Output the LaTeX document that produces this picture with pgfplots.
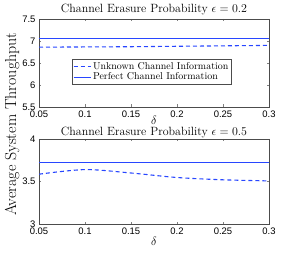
\documentclass[border=0pt]{standalone}
\usepackage{pgfplots}
\pgfplotsset{compat=1.18}
\usepackage{fontspec}
\newfontfamily\ticksf{Liberation Sans}
\definecolor{lblue}{RGB}{40,70,255}
\begin{document}
\begin{tikzpicture}
\useasboundingbox (0bp,0bp) rectangle (296bp,253bp);
\pgfplotsset{
  every axis/.append style={
    scale only axis, width=230bp,
    xmin=0.05, xmax=0.3,
    xtick={0.05,0.1,0.15,0.2,0.25,0.3},
    xticklabels={0.05,0.1,0.15,0.2,0.25,0.3},
    /pgf/number format/assume math mode=true,
    tick label style={font=\ticksf\fontsize{9.5}{10}\selectfont},
    tick align=inside, tick pos=both,
    xlabel={$\delta$},
    xlabel style={font=\fontsize{12}{12}\selectfont},
    title style={font=\fontsize{12}{12}\selectfont, yshift=-5bp},
    axis line style={black!70},
    major tick length=2.5bp,
  }
}
\begin{axis}[at={(39bp,146bp)}, anchor=south west, height=88bp,
  ymin=5.5, ymax=7.5, ytick={5.5,6,6.5,7,7.5}, yticklabels={5.5,6,6.5,7,7.5},
  xlabel style={yshift=8bp},
  title={Channel Erasure Probability $\epsilon=0.2$},
  legend style={at={(0.49,0.40)}, anchor=center, font=\fontsize{10}{10}\selectfont,
    draw=black!70, inner sep=1pt, row sep=-2pt},
  legend cell align=left]
\addplot[color=lblue, line width=1.1pt, dash pattern=on 4bp off 3bp] coordinates {(0.05,6.86) (0.1,6.865) (0.15,6.87) (0.2,6.88) (0.25,6.89) (0.3,6.9)};
\addlegendentry{Unknown Channel Information}
\addplot[color=lblue, line width=1.1pt] coordinates {(0.05,7.05) (0.3,7.05)};
\addlegendentry{Perfect Channel Information}
\end{axis}
\begin{axis}[at={(39bp,29bp)}, anchor=south west, height=85bp,
  ymin=3, ymax=4, ytick={3,3.5,4}, yticklabels={3,3.5,4},
  xlabel style={yshift=4bp},
  title style={yshift=-3bp},
  title={Channel Erasure Probability $\epsilon=0.5$}]
\addplot[color=lblue, line width=1.1pt, dash pattern=on 4bp off 3bp, smooth] coordinates {(0.05,3.586) (0.1,3.64) (0.15,3.60) (0.2,3.547) (0.25,3.52) (0.3,3.507)};
\addplot[color=lblue, line width=1.1pt] coordinates {(0.05,3.72) (0.3,3.72)};
\end{axis}
\node[rotate=90, font=\fontsize{16}{16}\selectfont] at (12bp,129bp) {Average System Throughput};
\end{tikzpicture}
\end{document}
